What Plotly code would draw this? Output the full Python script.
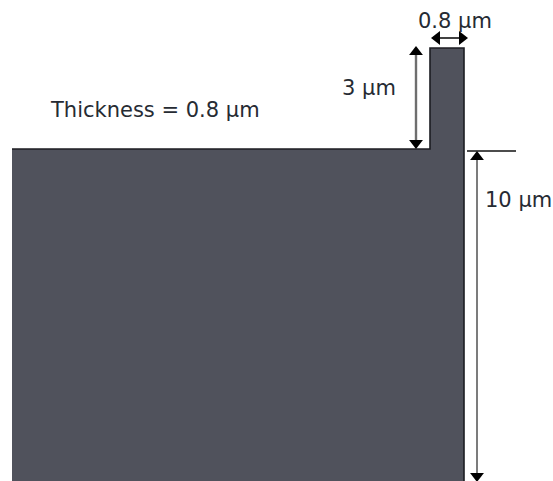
import plotly.graph_objects as go

# Cross-section outline (picture units, y grows downward)
fill_x = [12, 12, 430, 430, 464, 464, 12]
fill_y = [481, 149, 149, 48, 48, 481, 481]
edge_x = [12, 430, 430, 464, 464]
edge_y = [149, 149, 48, 48, 481]
ref_line_x = [467, 516]
ref_line_y = [151, 151]

labels = ["0.8 µm", "3 µm", "Thickness = 0.8 µm", "10 µm"]
label_x = [455, 369, 155, 518]
label_y = [21, 88, 110, 200]

# Dimension lines: x0, y0, x1, y1, and the arrowhead symbols at each end
dim_x0 = [437, 416, 477]
dim_y0 = [38, 52, 157]
dim_x1 = [462, 416, 477]
dim_y1 = [38, 143, 476]
dim_color = ["#111111", "#6e6e6e", "#6e6e6e"]
dim_width = [1.6, 2.4, 1.8]
head_start = ["triangle-left", "triangle-up", "triangle-up"]
head_end = ["triangle-right", "triangle-down", "triangle-down"]

fig = go.Figure()
fig.add_trace(go.Scatter(x=fill_x, y=fill_y, mode="lines", fill="toself",
                         fillcolor="#50525c", line=dict(color="#50525c", width=0),
                         hoverinfo="skip"))
fig.add_trace(go.Scatter(x=edge_x, y=edge_y, mode="lines",
                         line=dict(color="#1c1d22", width=1.6), hoverinfo="skip"))
fig.add_trace(go.Scatter(x=ref_line_x, y=ref_line_y, mode="lines",
                         line=dict(color="#111111", width=1.4), hoverinfo="skip"))

for x0, y0, x1, y1, c, w, h0, h1 in zip(dim_x0, dim_y0, dim_x1, dim_y1, dim_color, dim_width, head_start, head_end):
    fig.add_trace(go.Scatter(x=[x0, x1], y=[y0, y1], mode="lines",
                             line=dict(color=c, width=w), hoverinfo="skip"))
    fig.add_trace(go.Scatter(x=[x0, x1], y=[y0, y1], mode="markers",
                             marker=dict(symbol=[h0, h1], size=12, color="#000000", line=dict(width=0)),
                             hoverinfo="skip"))

annotations = []
for t, x, y in zip(labels, label_x, label_y):
    annotations.append(dict(x=x, y=y, xref="x", yref="y", text=t, showarrow=False,
                            font=dict(family="DejaVu Sans, sans-serif", size=21, color="#262b33")))

fig.update_layout(width=553, height=481, margin=dict(l=0, r=0, t=0, b=0),
                  paper_bgcolor="white", plot_bgcolor="white", showlegend=False,
                  xaxis=dict(range=[0, 553], visible=False, fixedrange=True),
                  yaxis=dict(range=[481, 0], visible=False, fixedrange=True),
                  annotations=annotations)
fig.write_html("out.html", config=dict(displayModeBar=False),
               post_script="document.body.style.margin='0';document.body.style.overflow='hidden';")
